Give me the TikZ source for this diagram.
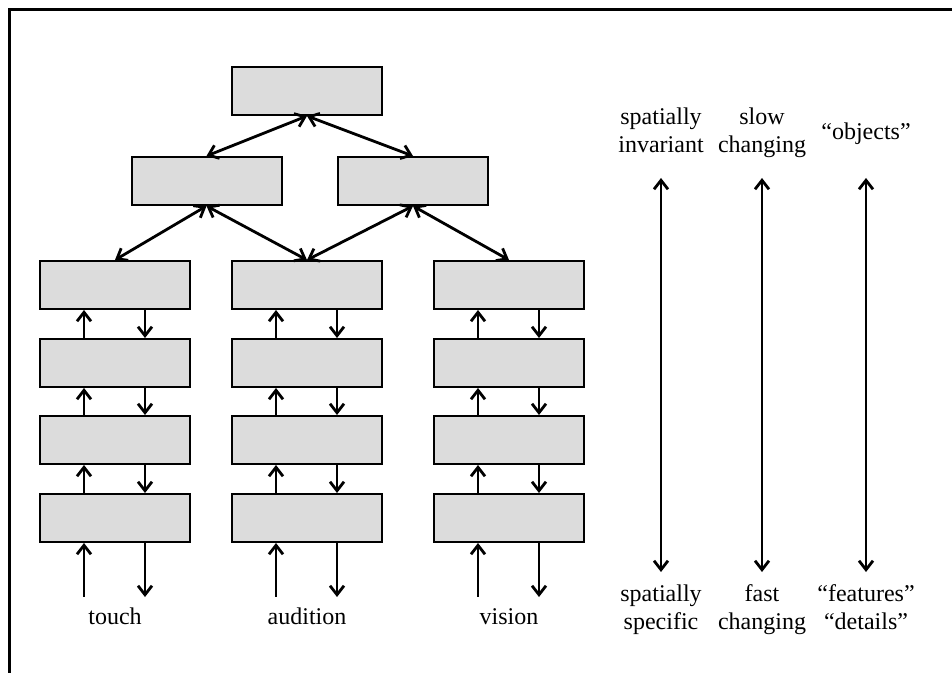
\documentclass[tikz,border=0pt]{standalone}
\usepackage{fontspec}
\setmainfont{Liberation Serif}
\usetikzlibrary{arrows.meta}
\definecolor{boxgrey}{RGB}{220,220,220}

\begin{document}
\begin{tikzpicture}[x=0.5pt, y=-0.5pt,
    >={Straight Barb[length=4.5pt,width=7pt]},
    box/.style={draw, line width=1pt, fill=boxgrey,
        minimum width=75pt, minimum height=24pt, inner sep=0pt},
    link/.style={line width=1.4pt},
    lbl/.style={align=center, inner sep=0pt,
        font=\fontsize{12}{14}\selectfont}]
    \useasboundingbox (0,0) rectangle (952,673);
    \draw[line width=1.5pt] (952,10) -- (9,10) -- (9,673);

    \node[box] (top) at (307,91) {};
    \node[box] (midL) at (206.5,181) {};
    \node[box] (midR) at (413,181) {};

    \foreach \c/\x/\sense in {1/115/touch, 2/307/audition, 3/509/vision} {
        \foreach \r/\y in {1/285, 2/363, 3/440, 4/518}
            \node[box] (b\c\r) at (\x,\y) {};
        \foreach \r/\s in {1/2, 2/3, 3/4} {
            \draw[link,<-] ([xshift=-15.5pt]b\c\r.south) -- ([xshift=-15.5pt]b\c\s.north);
            \draw[link,->] ([xshift=15pt]b\c\r.south) -- ([xshift=15pt]b\c\s.north);
        }
        \draw[link,<-] ([xshift=-15.5pt]b\c4.south) -- ++(0,54);
        \draw[link,->] ([xshift=15pt]b\c4.south) -- ++(0,54);
        \node[lbl, anchor=base] (sense\c) at (\x,624) {\sense};
    }

    \draw[link,<->] (top.south) -- (midL.north);
    \draw[link,<->] (top.south) -- (midR.north);
    \draw[link,<->] (midL.south) -- (b11.north);
    \draw[link,<->] (midL.south) -- (b21.north);
    \draw[link,<->] (midR.south) -- (b21.north);
    \draw[link,<->] (midR.south) -- (b31.north);

    \node[lbl] (inv) at (661,133) {spatially\strut\\invariant\strut};
    \node[lbl] (slow) at (762,133) {slow\strut\\changing\strut};
    \node[lbl, anchor=base] (obj) at (866,140) {“objects”};
    \node[lbl] (spec) at (661,610) {spatially\strut\\specific\strut};
    \node[lbl] (fast) at (762,610) {fast\strut\\changing\strut};
    \node[lbl] (feat) at (866,610) {“features”\strut\\“details”\strut};

    \foreach \x/\n in {661/a, 762/b, 866/c} {
        \coordinate (hi\n) at (\x,178);
        \coordinate (lo\n) at (\x,572);
        \draw[link,<->] (hi\n) -- (lo\n);
    }
\end{tikzpicture}
\end{document}
